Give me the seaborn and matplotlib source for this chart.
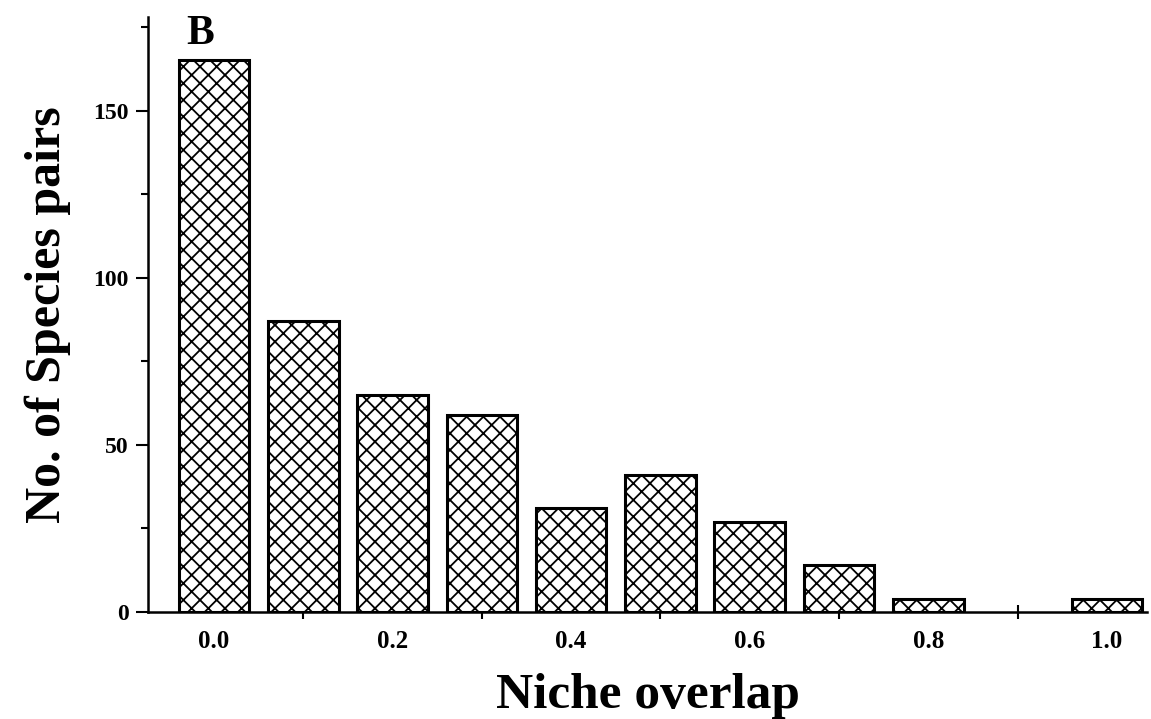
import matplotlib
matplotlib.use("Agg")
import matplotlib.pyplot as plt
from matplotlib.ticker import MultipleLocator, FixedLocator
import seaborn as sns
import pandas as pd

# Distribution of pairwise niche overlap values
overlap = [0.0, 0.1, 0.2, 0.3, 0.4, 0.5, 0.6, 0.7, 0.8, 0.9, 1.0]
pairs = [165, 87, 65, 59, 31, 41, 27, 14, 4, 0, 4]
xtick_labels = ["0.0", "0.2", "0.4", "0.6", "0.8", "1.0"]
ytick_values = [0, 50, 100, 150]

df = pd.DataFrame({"overlap": overlap, "pairs": pairs})

sns.set_theme(style="ticks")
plt.rcParams["font.family"] = ["Liberation Serif", "DejaVu Serif"]
plt.rcParams["font.weight"] = "bold"
plt.rcParams["hatch.linewidth"] = 1.3
plt.rcParams["hatch.color"] = "black"
for key in ("text.color", "axes.labelcolor", "xtick.color", "ytick.color",
            "axes.edgecolor"):
    plt.rcParams[key] = "black"

fig = plt.figure(figsize=(11.51, 7.19), dpi=100)
ax = fig.add_axes([0.1286, 0.1488, 0.8679, 0.8276])

sns.barplot(data=df, x="overlap", y="pairs", native_scale=True, width=0.79,
            color="white", edgecolor="black", linewidth=2.2, hatch="xx",
            ax=ax)

# empty classes leave only the bare axis line
for patch in ax.patches:
    if patch.get_height() == 0:
        patch.set_linewidth(0)

ax.set_xlim(-0.074, 1.045)
ax.set_ylim(0, 178)

ax.set_xticks([float(t) for t in xtick_labels])
ax.set_xticklabels(xtick_labels)
ax.xaxis.set_minor_locator(FixedLocator([0.1, 0.3, 0.5, 0.7, 0.9]))
ax.set_yticks(ytick_values)
ax.yaxis.set_minor_locator(MultipleLocator(25))

ax.tick_params(axis="x", which="major", length=0, pad=13, labelsize=18)
ax.tick_params(axis="x", which="minor", direction="inout", length=10, width=1.5)
ax.tick_params(axis="y", which="major", direction="out", length=9, width=1.5,
               pad=5, labelsize=17)
ax.tick_params(axis="y", which="minor", direction="out", length=5, width=1.5)
for lbl in ax.get_xticklabels() + ax.get_yticklabels():
    lbl.set_fontweight("bold")

for side in ("top", "right"):
    ax.spines[side].set_visible(False)
for side in ("left", "bottom"):
    ax.spines[side].set_linewidth(1.8)

ax.set_xlabel("Niche overlap", fontsize=37, fontweight="bold", labelpad=14)
ax.set_ylabel("No. of Species pairs", fontsize=36, fontweight="bold", labelpad=16)

ax.text(-0.016, 173, "B", fontsize=30, fontweight="bold", ha="center", va="center")

fig.savefig("out.png", dpi=100)
